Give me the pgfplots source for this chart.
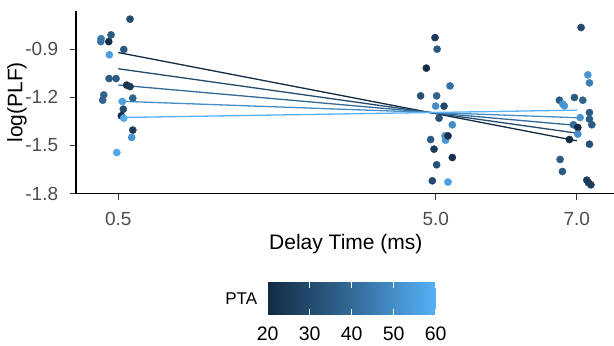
\documentclass[border=0pt]{standalone}
\usepackage{fontspec}
\setmainfont{Liberation Sans}
\usepackage{pgfplots}
\usepackage{pgfplotstable}
\pgfplotsset{compat=1.18}
\definecolor{tickgray}{HTML}{4D4D4D}
\definecolor{p20}{RGB}{19,43,67}
\definecolor{p30}{RGB}{35,75,110}
\definecolor{p40}{RGB}{51,106,152}
\definecolor{p50}{RGB}{69,142,200}
\definecolor{p60}{RGB}{86,177,247}
\pgfplotsset{colormap={gg}{rgb255(0cm)=(19,43,67); rgb255(1cm)=(51,106,152); rgb255(2cm)=(86,177,247)}}

\pgfplotstableread{
x y c
0.667 -0.713 30
0.398 -0.811 35
0.256 -0.834 45
0.252 -0.853 42
0.365 -0.853 22
0.374 -0.935 55
0.578 -0.902 35
0.370 -1.083 35
0.469 -1.083 35
0.620 -1.124 22
0.667 -1.133 25
0.294 -1.185 38
0.280 -1.218 38
0.706 -1.205 38
0.558 -1.226 55
0.572 -1.274 30
0.544 -1.315 22
0.578 -1.330 58
0.706 -1.404 25
0.690 -1.450 52
0.479 -1.544 57
4.990 -0.828 25
5.020 -0.900 35
4.867 -1.018 20
5.203 -1.129 42
4.786 -1.191 32
5.013 -1.191 38
4.999 -1.255 50
5.118 -1.255 30
5.047 -1.330 32
5.235 -1.371 50
4.928 -1.463 35
5.132 -1.440 52
5.140 -1.467 52
5.174 -1.440 22
4.976 -1.523 25
5.235 -1.575 22
5.013 -1.620 32
4.952 -1.720 30
5.174 -1.728 55
7.061 -0.765 30
7.156 -1.060 52
7.179 -1.110 45
6.753 -1.218 35
6.801 -1.242 52
6.824 -1.253 52
6.966 -1.201 35
7.085 -1.218 38
7.179 -1.295 35
7.047 -1.326 52
7.179 -1.336 35
7.213 -1.371 35
6.952 -1.371 40
7.014 -1.388 20
7.014 -1.429 50
6.895 -1.463 20
7.179 -1.492 32
6.763 -1.587 35
6.796 -1.662 35
7.142 -1.716 25
7.165 -1.731 25
7.199 -1.745 25
}\pts

\begin{document}
\begin{tikzpicture}
\useasboundingbox (0,0) rectangle (614bp,346bp);
\begin{axis}[
  at={(76bp,152.2bp)}, anchor=south west,
  scale only axis, width=539.6bp, height=183bp,
  xmin=-0.099, xmax=7.55, ymin=-1.801, ymax=-0.661,
  axis x line=bottom, axis y line=left,
  axis line style={line width=1.2bp, -, black},
  tick align=outside, major tick length=6bp,
  tick style={line width=1.1bp, color=black!80},
  xtick={0.5,5,7}, xticklabels={0.5,5.0,7.0},
  ytick={-1.8,-1.5,-1.2,-0.9}, yticklabels={-1.8,-1.5,-1.2,-0.9},
  ticklabel style={font=\fontsize{19bp}{22bp}\selectfont, text=tickgray, inner sep=0pt},
  xticklabel style={anchor=center, yshift=-19.2bp},
  yticklabel style={anchor=east, xshift=-11.7bp},
  xlabel={Delay Time (ms)}, ylabel={log(PLF)},
  label style={font=\fontsize{21bp}{24bp}\selectfont},
  xlabel style={at={(axis description cs:0.5,-0.274)}, anchor=center},
  ylabel style={at={(axis description cs:-0.1093,0.5)}, anchor=center},
  colormap name=gg,
  point meta min=20, point meta max=60,
]
\addplot[scatter, only marks, mark=*, mark size=3.6bp,
  scatter/use mapped color={draw=mapped color, fill=mapped color},
  point meta=explicit] table[x=x, y=y, meta=c] {\pts};
\addplot[no marks, p20, line width=1.3bp] coordinates {(0.5,-0.921) (7,-1.471)};
\addplot[no marks, p30, line width=1.3bp] coordinates {(0.5,-1.022) (7,-1.423)};
\addplot[no marks, p40, line width=1.3bp] coordinates {(0.5,-1.123) (7,-1.375)};
\addplot[no marks, p50, line width=1.3bp] coordinates {(0.5,-1.224) (7,-1.327)};
\addplot[no marks, p60, line width=1.3bp] coordinates {(0.5,-1.326) (7,-1.280)};
\end{axis}
% colour key
\begin{axis}[
  at={(267.7bp,31bp)}, anchor=south west,
  scale only axis, width=168bp, height=33.3bp,
  xmin=20, xmax=60, ymin=0, ymax=1,
  view={0}{90},
  colormap name=gg, point meta min=20, point meta max=60,
  axis line style={draw=none},
  ytick=\empty,
  xtick={20,30,40,50,60}, xticklabels={20,30,40,50,60},
  xtick pos=both,
  tick align=inside, major tick length=6bp,
  axis on top,
  tick style={white, line width=1bp},
  xticklabel pos=lower,
  xticklabel style={font=\fontsize{19.5bp}{22bp}\selectfont, text=black, inner sep=0pt, anchor=center, yshift=-18.3bp},
]
\addplot3[surf, shader=interp, point meta=x] coordinates {
(20,0,0) (30,0,0) (40,0,0) (50,0,0) (60,0,0)

(20,1,0) (30,1,0) (40,1,0) (50,1,0) (60,1,0)
};
\end{axis}
\node[font=\fontsize{17bp}{20bp}\selectfont, text=black] at (241.3bp,47.7bp) {PTA};
\end{tikzpicture}
\end{document}
